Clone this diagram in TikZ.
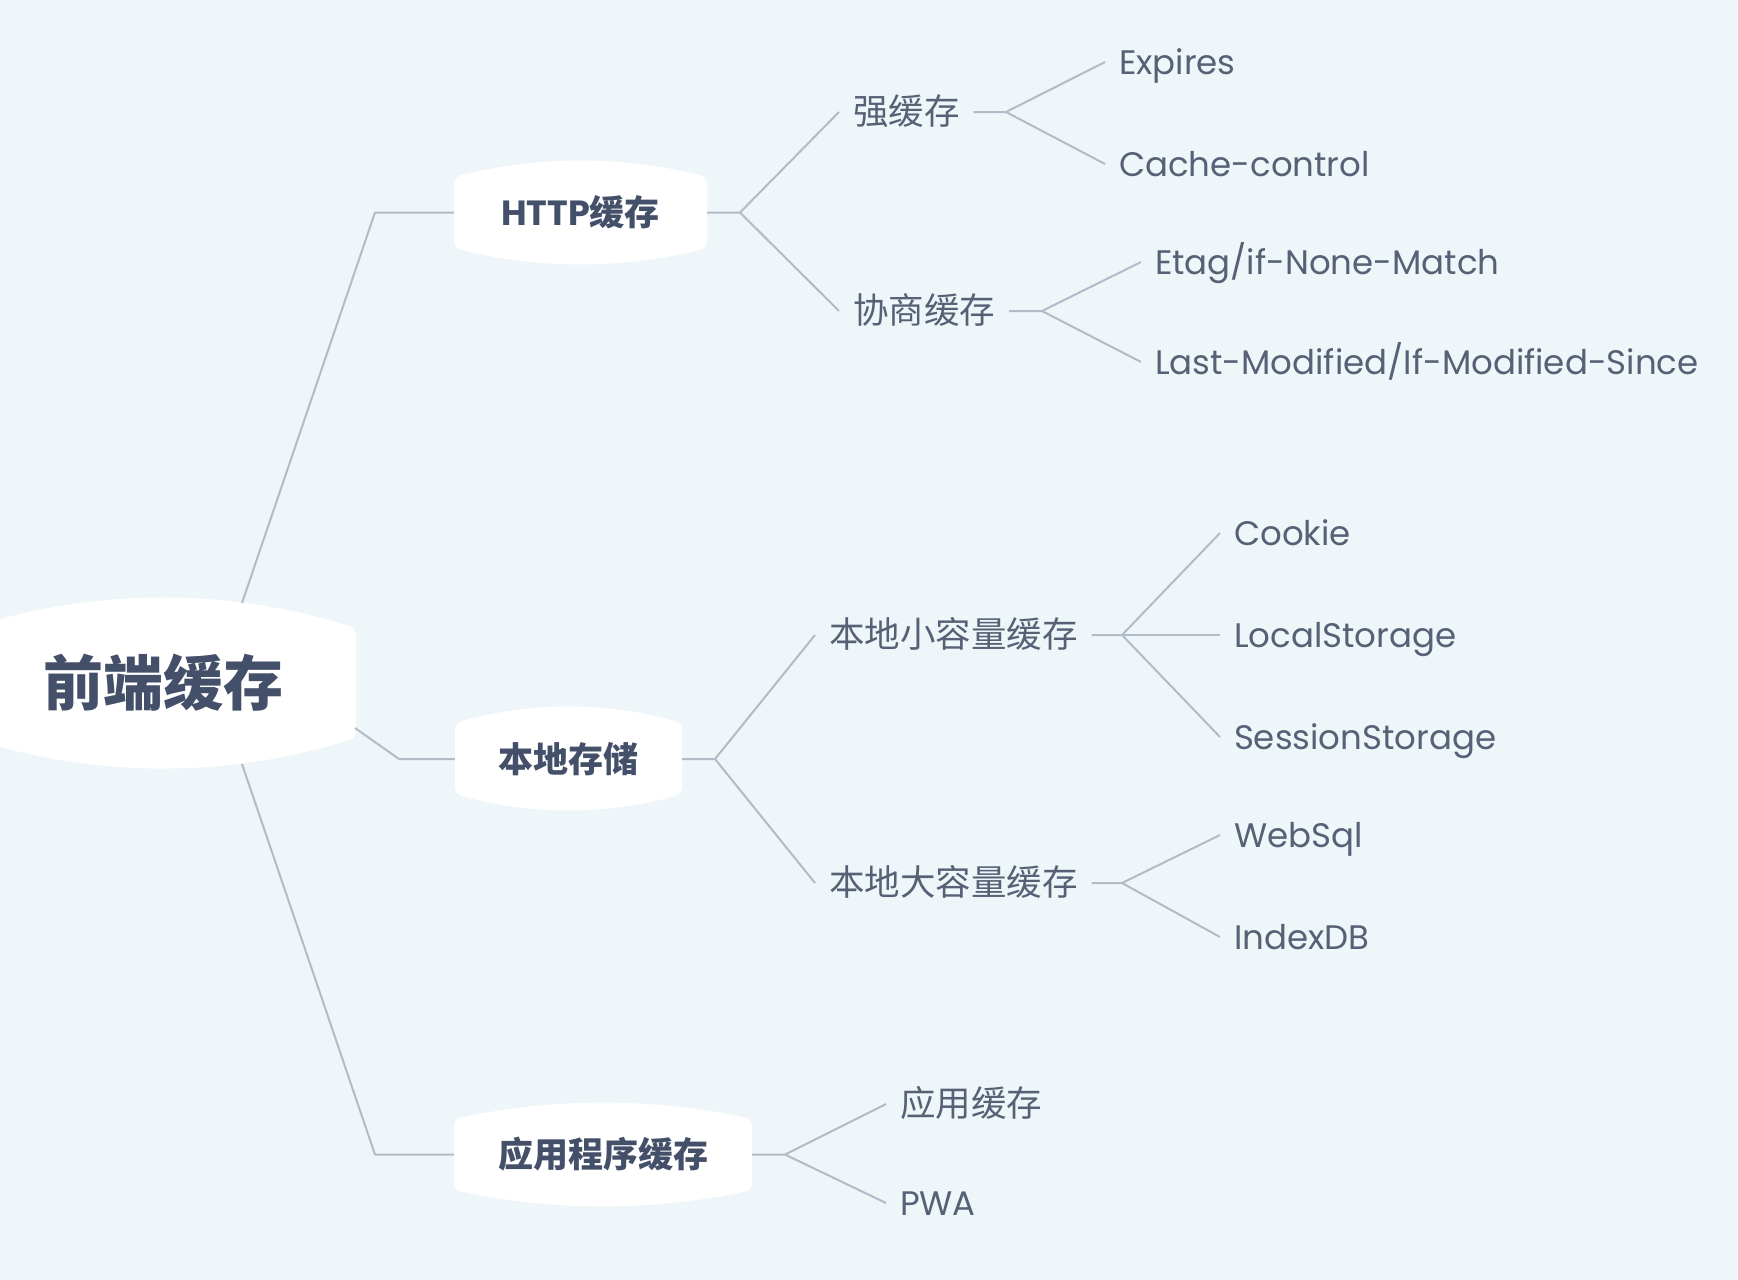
\documentclass[tikz,border=0pt]{standalone}
\usepackage{fontspec}
\setmainfont{Poppins}
\newfontfamily\cjk{Noto Sans CJK SC}
\newcommand\cjkl{\cjk\fontsize{35.5}{40}\selectfont}
\usetikzlibrary{calc}
\definecolor{pagebg}{HTML}{EFF6F9}
\definecolor{linec}{HTML}{B1BCC8}
\definecolor{darktxt}{HTML}{445069}
\definecolor{leaftxt}{HTML}{566176}
\newcommand\blobshape[5]{%
  \fill[white, rounded corners=7pt] (#1,#2+#5) .. controls ({#1+(#3-#1)/3},{#2-#5/3}) and ({#3-(#3-#1)/3},{#2-#5/3}) .. (#3,#2+#5)
    -- (#3,#4-#5) .. controls ({#3-(#3-#1)/3},{#4+#5/3}) and ({#1+(#3-#1)/3},{#4+#5/3}) .. (#1,#4-#5) -- cycle;}
\tikzset{
  conn/.style={draw=linec, line width=2pt, line join=round},
  topic/.style={inner sep=0pt, text=darktxt, font=\fontsize{35}{40}\selectfont\bfseries},
  label/.style={inner sep=0pt, outer xsep=14pt, anchor=west, text=leaftxt,
    font=\fontsize{34}{40}\selectfont, text height=29pt, text depth=5pt},
}
\begin{document}
\begin{tikzpicture}[x=1pt,y=-1pt]
\useasboundingbox (0,0) rectangle (1738,1280);
\fill[pagebg] (0,0) rectangle (1738,1280);
\begin{scope}
\clip (0,0) rectangle (1738,1280);
% node shapes
\blobshape{-30}{598}{356}{768}{30}
\blobshape{454}{161}{707}{264}{16}
\blobshape{455}{707}{682}{810}{16}
\blobshape{454}{1103}{752}{1206}{16}
\end{scope}

% root and main topics
\node[topic, font=\fontsize{60}{66}\selectfont\bfseries, minimum width=386pt, minimum height=110pt] (root) at (163,683) {\cjk 前端缓存};
\node[topic, minimum width=253pt, minimum height=71pt] (http) at (580.5,212.5) {HTTP{\cjk 缓存}};
\node[topic, minimum width=227pt, minimum height=71pt] (local) at (568.5,759) {\cjk 本地存储};
\node[topic, minimum width=298pt, minimum height=71pt] (app) at (603,1154.5) {\cjk 应用程序缓存};

% second level
\node[label] (strong) at (839,112) {\cjkl 强缓存};
\node[label] (nego) at (839,311) {\cjkl 协商缓存};
\node[label] (small) at (815,635) {\cjkl 本地小容量缓存};
\node[label] (big) at (815,883) {\cjkl 本地大容量缓存};
\node[label] (appc) at (886,1104) {\cjkl 应用缓存};
\node[label] (pwa) at (886,1203) {PWA};

% leaves
\node[label] (expires) at (1105,62) {Expires};
\node[label] (cachec) at (1105,164) {Cache-control};
\node[label] (etag) at (1141,262) {Etag/if-None-Match};
\node[label] (lastm) at (1141,362) {Last-Modified/If-Modified-Since};
\node[label] (cookie) at (1220,533) {Cookie};
\node[label] (lstore) at (1220,635) {LocalStorage};
\node[label] (sstore) at (1220,737) {SessionStorage};
\node[label] (websql) at (1220,835) {WebSql};
\node[label] (idb) at (1220,937) {IndexDB};

% branch coordinates
\coordinate (rtop) at (242,603);
\coordinate (rbot) at (242,764);
\coordinate (rright) at (355,728);
\coordinate (e1) at (375,212.5);
\coordinate (e2) at (399,759);
\coordinate (e3) at (375,1154.5);
\coordinate (bh) at (740,212.5);
\coordinate (bl) at (715,759);
\coordinate (ba) at (785,1154.5);
\coordinate (bs) at (1006,112);
\coordinate (bn) at (1042,311);
\coordinate (bsm) at (1122,635);
\coordinate (bbg) at (1122,883);

% connectors
\draw[conn] (rtop) -- (e1) -- (http.west);
\draw[conn] (rright) -- (e2) -- (local.west);
\draw[conn] (rbot) -- (e3) -- (app.west);

\draw[conn] (http.east) -- (bh) -- (strong.west);
\draw[conn] (bh) -- (nego.west);
\draw[conn] (local.east) -- (bl) -- (small.west);
\draw[conn] (bl) -- (big.west);
\draw[conn] (app.east) -- (ba) -- (appc.west);
\draw[conn] (ba) -- (pwa.west);

\draw[conn] (strong.east) -- (bs) -- (expires.west);
\draw[conn] (bs) -- (cachec.west);
\draw[conn] (nego.east) -- (bn) -- (etag.west);
\draw[conn] (bn) -- (lastm.west);
\draw[conn] (small.east) -- (bsm) -- (cookie.west);
\draw[conn] (bsm) -- (lstore.west);
\draw[conn] (bsm) -- (sstore.west);
\draw[conn] (big.east) -- (bbg) -- (websql.west);
\draw[conn] (bbg) -- (idb.west);
\end{tikzpicture}
\end{document}
